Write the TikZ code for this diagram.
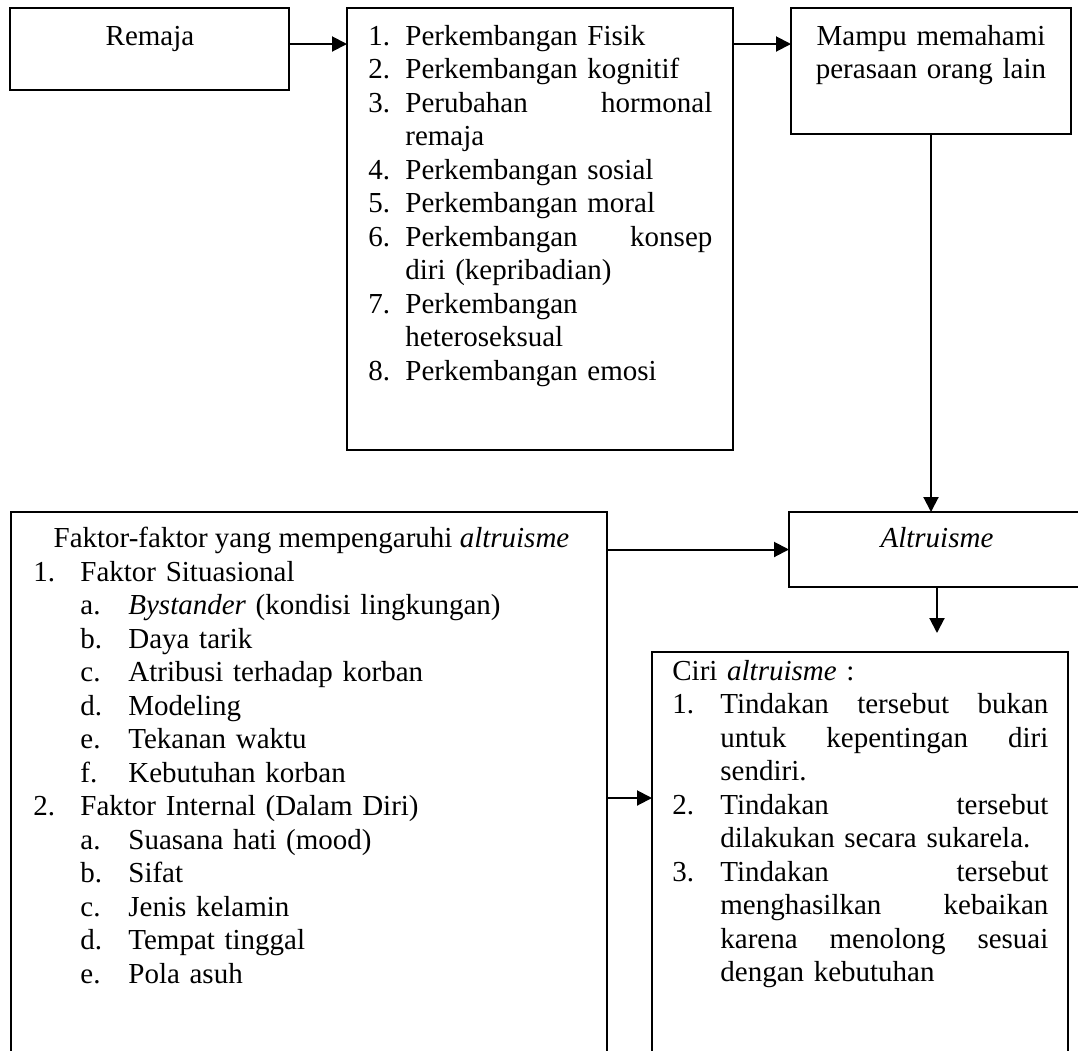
\documentclass[tikz,border=0pt]{standalone}
\usepackage{fontspec}
\setmainfont{Liberation Serif}
\usetikzlibrary{positioning,arrows.meta}

\newcommand{\lbl}[2]{\makebox[#1][l]{#2}}

\begin{document}
\begin{tikzpicture}[
    x=0.5pt, y=-0.5pt,
    every node/.style={font=\fontsize{14.5}{16.75}\selectfont},
    box/.style={draw, line width=1pt, inner sep=0pt, outer sep=0pt},
    txt/.style={inner sep=0pt, align=left},
    arr/.style={line width=1pt, -{Triangle[length=7.5pt,width=7.5pt]}}
]
    \useasboundingbox (0,0) rectangle (1078,1051);
    \clip (0,0) rectangle (1078,1051);

    % boxes
    \node[box, minimum width=139.5pt, minimum height=41pt] (remaja) at (149.5,49) {};
    \node[box, minimum width=193pt, minimum height=221pt] (daftar) at (540,229) {};
    \node[box, minimum width=140pt, minimum height=63pt] (mampu) at (931,71) {};
    \node[box, minimum width=148pt, minimum height=37.5pt] (altru) at (937,549.5) {};
    \node[box, minimum width=298pt, minimum height=279pt] (faktor) at (309,791) {};
    \node[box, minimum width=208pt, minimum height=209pt] (ciri) at (860,861) {};

    % texts
    \node[inner sep=0pt, anchor=base] (tremaja) at (150,45) {Remaja};
    \node[txt, anchor=base west, text width=172pt] (tdaftar) at (368,45) {%
        \lbl{18.5pt}{1.}Perkembangan Fisik\\
        \lbl{18.5pt}{2.}Perkembangan kognitif\\
        \lbl{18.5pt}{3.}Perubahan\hfill hormonal\\
        \hspace*{18.5pt}remaja\\
        \lbl{18.5pt}{4.}Perkembangan sosial\\
        \lbl{18.5pt}{5.}Perkembangan moral\\
        \lbl{18.5pt}{6.}Perkembangan\hfill konsep\\
        \hspace*{18.5pt}diri (kepribadian)\\
        \lbl{18.5pt}{7.}Perkembangan\\
        \hspace*{18.5pt}heteroseksual\\
        \lbl{18.5pt}{8.}Perkembangan emosi};
    \node[inner sep=0pt, anchor=base, text width=140pt, align=center] (tmampu) at (931,45)
        {Mampu memahami\\ perasaan orang lain};
    \node[inner sep=0pt, anchor=base] (taltru) at (937,547) {\textit{Altruisme}};
    \node[inner sep=0pt, anchor=base] (tjudul) at (311.5,547)
        {Faktor-faktor yang mempengaruhi \textit{altruisme}};
    \node[txt, anchor=base west, text width=270pt] (tfaktor) at (33,581) {%
        \lbl{23.5pt}{1.}Faktor Situasional\\
        \hspace*{23.5pt}\lbl{24pt}{a.}\textit{Bystander} (kondisi lingkungan)\\
        \hspace*{23.5pt}\lbl{24pt}{b.}Daya tarik\\
        \hspace*{23.5pt}\lbl{24pt}{c.}Atribusi terhadap korban\\
        \hspace*{23.5pt}\lbl{24pt}{d.}Modeling\\
        \hspace*{23.5pt}\lbl{24pt}{e.}Tekanan waktu\\
        \hspace*{23.5pt}\lbl{24pt}{f.}Kebutuhan korban\\
        \lbl{23.5pt}{2.}Faktor Internal (Dalam Diri)\\
        \hspace*{23.5pt}\lbl{24pt}{a.}Suasana hati (mood)\\
        \hspace*{23.5pt}\lbl{24pt}{b.}Sifat\\
        \hspace*{23.5pt}\lbl{24pt}{c.}Jenis kelamin\\
        \hspace*{23.5pt}\lbl{24pt}{d.}Tempat tinggal\\
        \hspace*{23.5pt}\lbl{24pt}{e.}Pola asuh};
    \node[txt, anchor=base west, text width=188pt] (tciri) at (672,680) {%
        Ciri \textit{altruisme} :\\
        \lbl{24pt}{1.}Tindakan\hfill tersebut\hfill bukan\\
        \hspace*{24pt}untuk\hfill kepentingan\hfill diri\\
        \hspace*{24pt}sendiri.\\
        \lbl{24pt}{2.}Tindakan\hfill tersebut\\
        \hspace*{24pt}dilakukan secara sukarela.\\
        \lbl{24pt}{3.}Tindakan\hfill tersebut\\
        \hspace*{24pt}menghasilkan\hfill kebaikan\\
        \hspace*{24pt}karena\hfill menolong\hfill sesuai\\
        \hspace*{24pt}dengan kebutuhan};

    % connectors
    \coordinate (atas) at (0,44);
    \coordinate (bawah) at (0,798);
    \draw[arr] (remaja.east |- atas) -- (daftar.west |- atas);
    \draw[arr] (daftar.east |- atas) -- (mampu.west |- atas);
    \draw[arr] (mampu.south) -- (altru.north -| mampu.south);
    \draw[arr] (faktor.east |- altru.west) -- (altru.west);
    \draw[arr, shorten >=9.5pt] (altru.south) -- (altru.south |- ciri.north);
    \draw[arr] (faktor.east |- bawah) -- (ciri.west |- bawah);
\end{tikzpicture}
\end{document}
